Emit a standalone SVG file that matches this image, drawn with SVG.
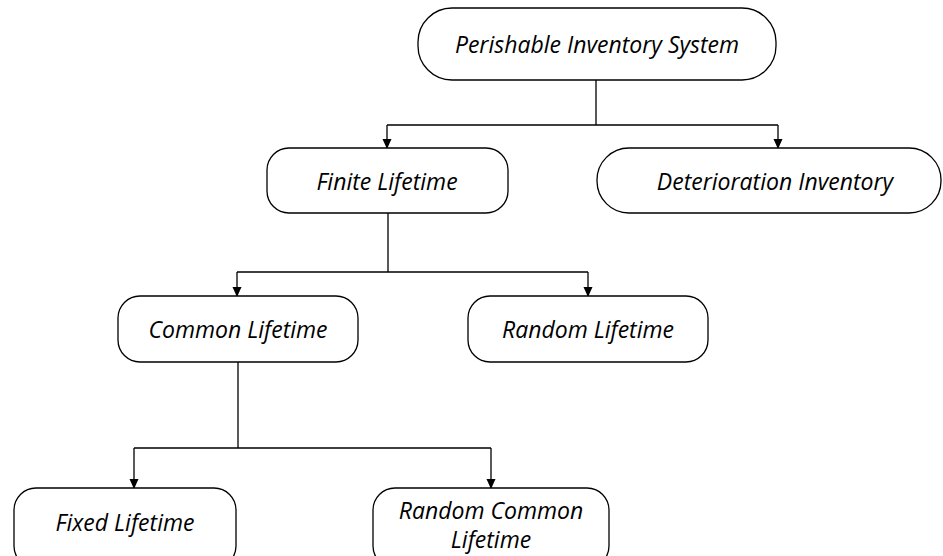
<svg xmlns="http://www.w3.org/2000/svg" width="943" height="556" viewBox="0 0 943 556">
<style>
.node rect{fill:#fff;stroke:#000;stroke-width:1.3}
.node text{font-family:"Open Sans","Liberation Sans",sans-serif;font-style:italic;font-size:23px;fill:#000;text-anchor:middle;dominant-baseline:central}
.conn{fill:none;stroke:#000;stroke-width:1.3}
</style>
<defs>
<marker id="arr" markerWidth="10" markerHeight="12" refX="9" refY="5" orient="auto" markerUnits="userSpaceOnUse">
<path d="M0,0.5 L10,5 L0,9.5 Z" fill="#000"/>
</marker>
</defs>
<rect width="943" height="556" fill="#fff"/>
<g id="connectors">
<path class="conn" d="M596,80 V125 M387,125 H778"/>
<path class="conn" d="M387,125 V148" marker-end="url(#arr)"/>
<path class="conn" d="M778,125 V148" marker-end="url(#arr)"/>
<path class="conn" d="M388,213 V272 M237,272 H588"/>
<path class="conn" d="M237,272 V296" marker-end="url(#arr)"/>
<path class="conn" d="M588,272 V296" marker-end="url(#arr)"/>
<path class="conn" d="M238,362 V448 M134,448 H491"/>
<path class="conn" d="M134,448 V488" marker-end="url(#arr)"/>
<path class="conn" d="M491,448 V488" marker-end="url(#arr)"/>
</g>
<g id="n-root" class="node"><rect x="418" y="8" width="358" height="72" rx="34" ry="34"/><text x="597" y="44">Perishable Inventory System</text></g>
<g id="n-finite" class="node"><rect x="267" y="148" width="241" height="65" rx="22" ry="22"/><text x="387" y="181">Finite Lifetime</text></g>
<g id="n-deter" class="node"><rect x="597" y="148" width="344" height="65" rx="32" ry="32"/><text x="775" y="181">Deterioration Inventory</text></g>
<g id="n-common" class="node"><rect x="118" y="296" width="240" height="66" rx="22" ry="22"/><text x="238" y="329">Common Lifetime</text></g>
<g id="n-random" class="node"><rect x="468" y="296" width="240" height="66" rx="22" ry="22"/><text x="588" y="329">Random Lifetime</text></g>
<g id="n-fixed" class="node"><rect x="14" y="488" width="222" height="80" rx="22" ry="22"/><text x="125" y="522">Fixed Lifetime</text></g>
<g id="n-rcl" class="node"><rect x="373" y="488" width="236" height="80" rx="22" ry="22"/><text x="491" y="510">Random Common</text><text x="491" y="539">Lifetime</text></g>
</svg>
